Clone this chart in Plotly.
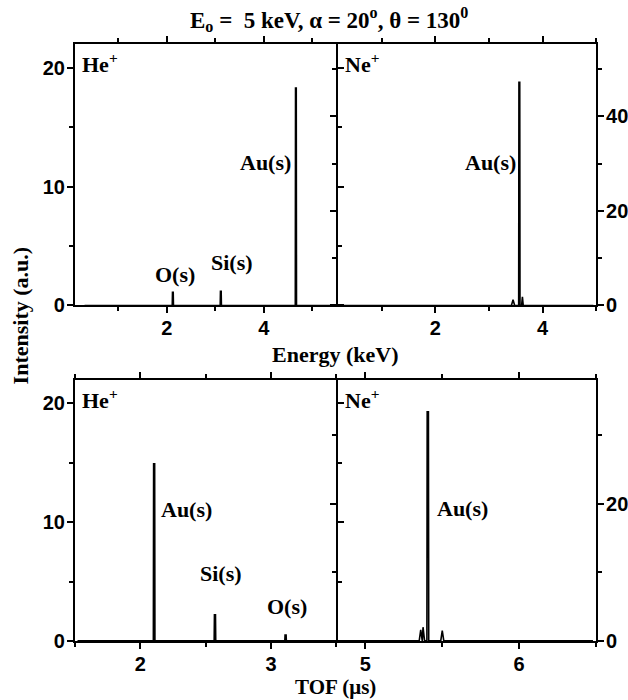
import plotly.graph_objects as go

# ---- data ----
he_energy_x = [0.3, 2.11, 2.115, 2.13, 2.135, 3.10, 3.105, 3.12, 3.125, 4.65, 4.655, 4.67, 4.675, 5.45]
he_energy_y = [0, 0, 1.1, 1.1, 0, 0, 1.2, 1.2, 0, 0, 18.3, 18.3, 0, 0]

ne_energy_x = [0.2, 3.42, 3.45, 3.48, 3.555, 3.56, 3.575, 3.58, 3.61, 3.625, 3.64, 4.95]
ne_energy_y = [0, 0, 1.2, 0, 0, 47.2, 47.2, 0, 0, 1.8, 0, 0]

he_tof_x = [1.52, 2.10, 2.102, 2.11, 2.112, 2.565, 2.567, 2.575, 2.577, 3.105, 3.107, 3.115, 3.117, 3.48]
he_tof_y = [0, 0, 14.9, 14.9, 0, 0, 2.2, 2.2, 0, 0, 0.5, 0.5, 0, 0]

ne_tof_x = [4.83, 5.35, 5.36, 5.37, 5.375, 5.385, 5.40, 5.402, 5.41, 5.412, 5.49, 5.50, 5.51, 6.48]
ne_tof_y = [0, 0, 1.6, 0, 2.0, 0, 0, 33.4, 33.4, 0, 0, 1.5, 0, 0]

serif = "Liberation Serif, Times New Roman, serif"
sans = "Liberation Sans, Arial, sans-serif"

fig = go.Figure()
for xs, ys, xa, ya in [(he_energy_x, he_energy_y, "x", "y"),
                       (ne_energy_x, ne_energy_y, "x2", "y2"),
                       (he_tof_x, he_tof_y, "x3", "y3"),
                       (ne_tof_x, ne_tof_y, "x4", "y4")]:
    fig.add_trace(go.Scatter(x=xs, y=ys, xaxis=xa, yaxis=ya, mode="lines",
                             line=dict(color="black", width=1.6), showlegend=False,
                             hoverinfo="skip"))

W = 628
H_REF = 700   # reference picture height used for positioning
H_FIG = 712   # figure height


def px(x):
    return x / W


def py(y):
    return (H_REF - y) / H_REF


xl = [px(75), px(337)]
xr = [px(339), px(597)]
yt = [py(305), py(44)]
yb = [py(640), py(379)]

common = dict(showline=True, linewidth=2, linecolor="black", mirror="ticks",
              ticks="outside", ticklen=6, tickwidth=2, tickcolor="black",
              showgrid=False, zeroline=False, ticklabelstandoff=-2,
              tickfont=dict(family=sans, size=20, color="black", weight="bold"))


def mn(d):
    return dict(dtick=d, ticks="outside", ticklen=4, tickwidth=1.5, tickcolor="black", showgrid=False)


fig.update_layout(
    width=W, height=H_FIG, margin=dict(l=0, r=0, t=0, b=0),
    plot_bgcolor="white", paper_bgcolor="white",
    xaxis=dict(domain=xl, range=[0.1, 5.5], anchor="y", tickvals=[2, 4], minor=mn(1), **common),
    yaxis=dict(domain=yt, range=[0, 22], anchor="x", tickvals=[0, 10, 20], minor=mn(5), **common),
    xaxis2=dict(domain=xr, range=[0.19, 5.0], anchor="y2", tickvals=[2, 4], minor=mn(1), **common),
    yaxis2=dict(domain=yt, range=[0, 55.3], anchor="x2", side="right", tickvals=[0, 20, 40],
                minor=mn(10), **common),
    xaxis3=dict(domain=xl, range=[1.5, 3.5], anchor="y3", tickvals=[2, 3], minor=mn(0.5), **common),
    yaxis3=dict(domain=yb, range=[0, 22], anchor="x3", tickvals=[0, 10, 20], minor=mn(5), **common),
    xaxis4=dict(domain=xr, range=[4.825, 6.5], anchor="y4", tickvals=[5, 6], minor=mn(0.5), **common),
    yaxis4=dict(domain=yb, range=[0, 38.1], anchor="x4", side="right", tickvals=[0, 20],
                minor=mn(10), **common),
)

lab = dict(family=serif, size=22, color="black")
ann = []


def a(text, x, y, xref, yref, xanchor="center", yanchor="middle", font=lab, **kw):
    ann.append(dict(text=text, x=x, y=y, xref=xref, yref=yref, xanchor=xanchor,
                    yanchor=yanchor, showarrow=False, font=font, **kw))


# panel labels
a("<b>He<sup>+</sup></b>", px(80), py(63), "paper", "paper", xanchor="left")
a("<b>Ne<sup>+</sup></b>", px(344), py(63), "paper", "paper", xanchor="left")
a("<b>He<sup>+</sup></b>", px(80), py(398), "paper", "paper", xanchor="left")
a("<b>Ne<sup>+</sup></b>", px(344), py(398), "paper", "paper", xanchor="left")

# peak labels
a("<b>O(s)</b>", 2.16, 2.6, "x", "y")
a("<b>Si(s)</b>", 3.34, 3.6, "x", "y")
a("<b>Au(s)</b>", 4.04, 12.0, "x", "y")
a("<b>Au(s)</b>", 3.03, 30.3, "x2", "y2")
a("<b>Au(s)</b>", 2.35, 11.1, "x3", "y3")
a("<b>Si(s)</b>", 2.62, 5.7, "x3", "y3")
a("<b>O(s)</b>", 3.12, 2.9, "x3", "y3")
a("<b>Au(s)</b>", 5.63, 19.3, "x4", "y4")

# axis titles and title
a("<b>Energy (keV)</b>", px(336), py(354), "paper", "paper")
a("<b>TOF (μs)</b>", px(336), py(686), "paper", "paper", font=dict(family=serif, size=21, color="black"))
a("<b>Intensity (a.u.)</b>", px(20), py(315), "paper", "paper", textangle=-90)
a("<b>E<sub>o</sub> =  5 keV, α = 20<sup>o</sup>, θ = 130<sup>0</sup></b>", px(330), py(19),
  "paper", "paper", font=dict(family=serif, size=23, color="black"))

fig.update_layout(annotations=ann)
fig.write_html("out.html", config={"displayModeBar": False},
               post_script="document.body.style.margin='0px';document.body.style.padding='0px';")
